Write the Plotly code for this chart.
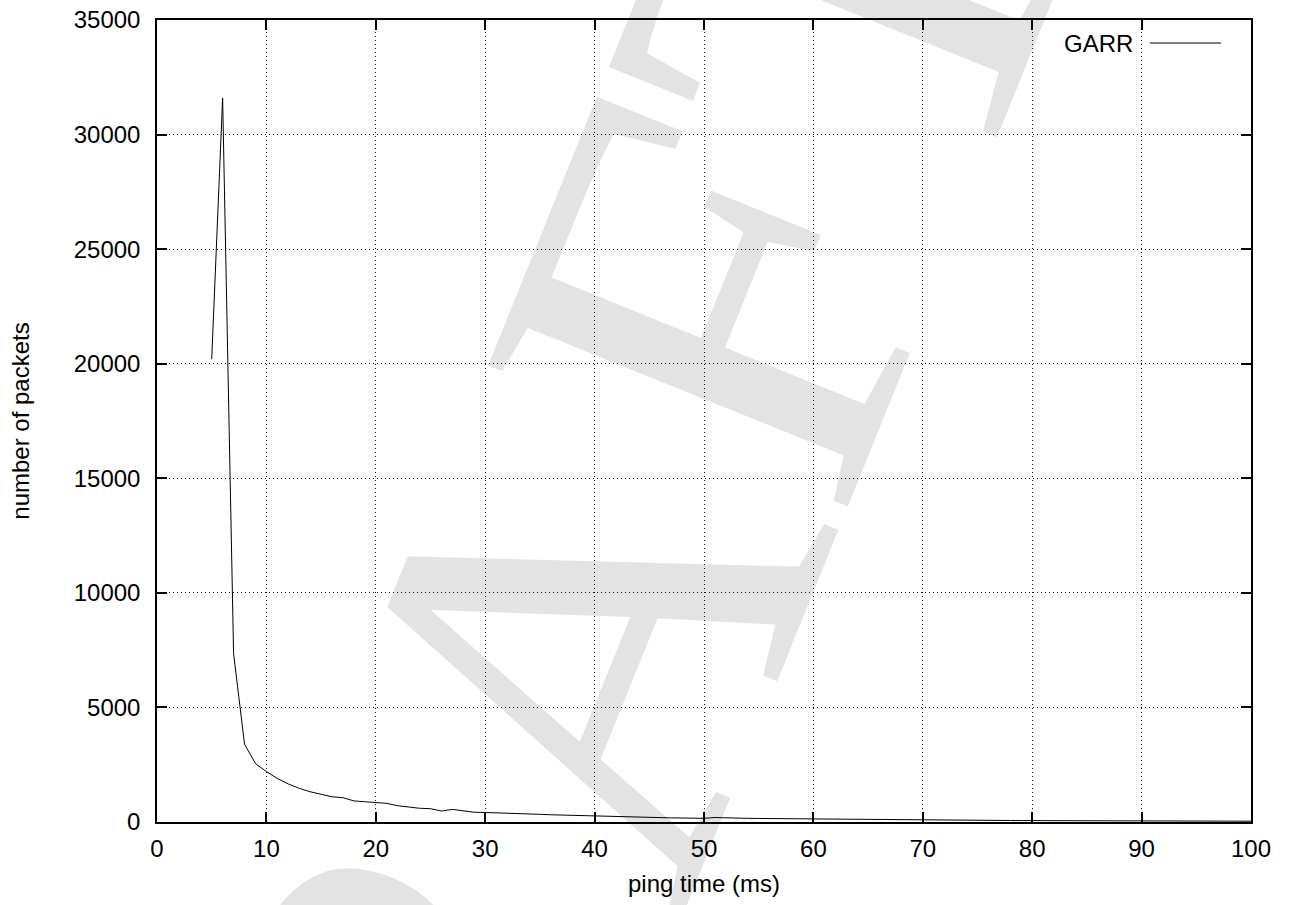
import plotly.graph_objects as go

# ---- data ----
ping_ms = [5, 6, 7, 8, 9, 10, 11, 12, 13, 14, 15, 16, 17, 18, 19, 20,
           21, 22, 23, 24, 25, 26, 27, 28, 29, 30, 31, 32, 33, 34, 35,
           36, 37, 38, 39, 40, 41, 42, 43, 44, 45, 46, 47, 48, 49, 50,
           51, 52, 53, 54, 55, 56, 57, 58, 59, 60, 61, 62, 63, 64, 65,
           66, 67, 68, 69, 70, 71, 72, 73, 74, 75, 76, 77, 78, 79, 80,
           81, 82, 83, 84, 85, 86, 87, 88, 89, 90, 91, 92, 93, 94, 95,
           96, 97, 98, 99, 100]
garr_packets = [20200, 31600, 7350, 3400, 2550, 2200, 1900, 1660, 1470, 1320,
                1210, 1100, 1060, 920, 885, 860, 815, 710, 640, 600,
                580, 480, 550, 490, 425, 415, 405, 390, 380, 360,
                335, 315, 300, 285, 270, 260, 250, 235, 225, 215,
                200, 190, 180, 175, 165, 160, 195, 175, 165, 160,
                155, 150, 145, 150, 145, 140, 130, 120, 110, 100,
                95, 90, 90, 88, 85, 85, 80, 78, 75, 75,
                72, 70, 68, 65, 62, 60, 58, 56, 55, 53,
                52, 50, 48, 47, 46, 45, 44, 42, 45, 50,
                48, 44, 40, 38, 36, 35]
series_name = "GARR"
x_ticks = [0, 10, 20, 30, 40, 50, 60, 70, 80, 90, 100]
y_ticks = [0, 5000, 10000, 15000, 20000, 25000, 30000, 35000]
x_title = "ping time (ms)"
y_title = "number of packets"
watermark = "DRAFT"

FONT = "Liberation Sans, Arial, Helvetica, sans-serif"

fig = go.Figure()
fig.add_trace(go.Scatter(
    x=ping_ms, y=garr_packets, mode="lines", name=series_name,
    line=dict(color="black", width=1), showlegend=False,
))

axis_common = dict(
    showline=True, linecolor="black", linewidth=1.5, mirror="ticks",
    ticks="inside", ticklen=10, tickwidth=1.5, tickcolor="black",
    showgrid=True, gridcolor="#111111", gridwidth=1, griddash="1px,3px",
    zeroline=False, automargin=False,
    tickfont=dict(family=FONT, size=24, color="black"),
)

fig.update_xaxes(range=[0, 100], tickvals=x_ticks, ticklabelstandoff=4,
                 title=dict(text=x_title, font=dict(family=FONT, size=24, color="black"), standoff=15),
                 **axis_common)
fig.update_yaxes(range=[0, 35000], tickvals=y_ticks, tickformat="d", ticklabelstandoff=10,
                 title=dict(text=y_title, font=dict(family=FONT, size=24, color="black"), standoff=37),
                 **axis_common)

# light watermark (transparent black so it reads as if behind the data)
fig.add_annotation(
    text=watermark, xref="paper", yref="paper", x=0.36, y=0.14,
    xanchor="center", yanchor="middle", showarrow=False, textangle=-68,
    font=dict(family="Liberation Serif, Times New Roman, serif", size=590,
              color="rgba(0,0,0,0.11)"),
)

# gnuplot-style key: label then line sample
fig.add_annotation(
    text=series_name, xref="paper", yref="paper", x=0.894, y=0.9713,
    xanchor="right", yanchor="middle", showarrow=False,
    font=dict(family=FONT, size=24, color="black"),
)
fig.add_shape(type="line", xref="paper", yref="paper",
              x0=0.9077, x1=0.9726, y0=0.9713, y1=0.9713,
              line=dict(color="black", width=1))

fig.update_layout(
    width=1293, height=905,
    margin=dict(l=157, r=42, t=20, b=83),
    paper_bgcolor="white", plot_bgcolor="white",
    showlegend=False,
    font=dict(family=FONT, color="black"),
)

fig.write_html("out.html")
